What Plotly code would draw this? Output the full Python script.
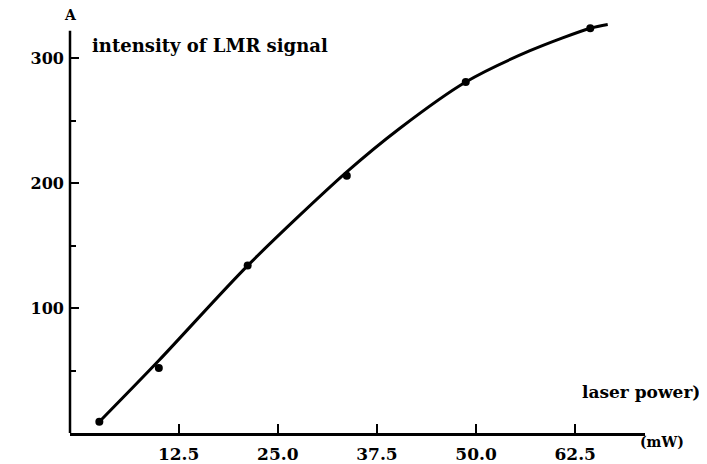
import plotly.graph_objects as go

# measured points (laser power mW, LMR signal intensity)
power = [2.5, 10.0, 21.2, 33.7, 48.7, 64.4]
intensity = [9, 52, 134, 206, 281, 324]

# hand-drawn smooth curve
curve_power = [2.5, 10.0, 21.2, 33.7, 40.4, 48.7, 56.8, 64.4, 66.6]
curve_intensity = [9, 58, 134, 209, 244, 281, 306, 324, 327]

x_ticks = [12.5, 25.0, 37.5, 50.0, 62.5]
x_tick_text = ["12.5", "25.0", "37.5", "50.0", "62.5"]
y_ticks = [100, 200, 300]
y_tick_text = ["100", "200", "300"]

FONT = "DejaVu Serif"

fig = go.Figure()
fig.add_trace(go.Scatter(x=curve_power, y=curve_intensity, mode="lines",
                         line=dict(color="black", width=3, shape="spline", smoothing=0.8),
                         hoverinfo="skip", showlegend=False))
fig.add_trace(go.Scatter(x=power, y=intensity, mode="markers",
                         marker=dict(color="black", size=8),
                         cliponaxis=False, showlegend=False))

fig.update_layout(
    width=707, height=464,
    margin=dict(l=62, r=70, t=14, b=39),
    paper_bgcolor="white", plot_bgcolor="white",
    font=dict(family=FONT, color="black", size=16),
    showlegend=False,
    xaxis=dict(range=[-1.2, 71.3], tickvals=x_ticks, ticktext=x_tick_text,
               ticks="inside", ticklen=9, tickwidth=2, tickcolor="black",
               showline=True, linecolor="black", linewidth=2.5,
               showgrid=False, zeroline=False, automargin=False,
               ticklabelstandoff=4,
               tickfont=dict(family=FONT, size=17, weight="bold")),
    yaxis=dict(range=[0, 329], tickvals=y_ticks, ticktext=y_tick_text,
               ticks="inside", ticklen=9, tickwidth=2, tickcolor="black",
               showline=False, showgrid=False, zeroline=False, automargin=False,
               ticklabelstandoff=5,
               minor=dict(tickvals=[50, 150, 250], ticks="inside", ticklen=6,
                          tickwidth=2, tickcolor="black"),
               tickfont=dict(family=FONT, size=16, weight="bold")),
    shapes=[dict(type="line", xref="paper", yref="y", x0=0, x1=0, y0=0, y1=322,
                 line=dict(color="black", width=2.5))],
    annotations=[
        dict(text="A", xref="paper", yref="paper", x=0.0, y=1.0,
             yshift=7, showarrow=False, font=dict(family=FONT, size=14, weight="bold"),
             xanchor="center", yanchor="middle"),
        dict(text="intensity of LMR signal", xref="paper", yref="y", x=0.035, y=310,
             showarrow=False, xanchor="left", yanchor="middle",
             font=dict(family=FONT, size=18, weight="bold")),
        dict(text="laser power)", xref="paper", yref="y", x=1.0, y=33,
             xshift=-65, showarrow=False, xanchor="left", yanchor="middle",
             font=dict(family=FONT, size=17, weight="bold")),
        dict(text="(mW)", xref="paper", yref="paper", x=1.0, y=0, xshift=-7,
             yshift=-9, showarrow=False, xanchor="left", yanchor="middle",
             font=dict(family=FONT, size=14, weight="bold")),
    ],
)

fig.write_html("out.html")
